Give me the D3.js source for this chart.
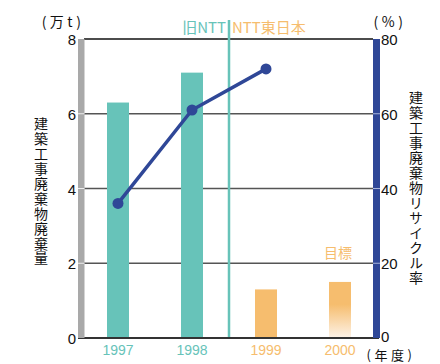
<!DOCTYPE html>
<html>
<head>
<meta charset="utf-8">
<script src="https://cdn.jsdelivr.net/npm/d3@7"></script>
<style>
  html, body { margin: 0; padding: 0; background: #fff; }
  svg { display: block; font-family: "Liberation Sans", "Noto Sans CJK JP", sans-serif; }
  .jp { font-family: "Noto Sans CJK JP", sans-serif; }
</style>
</head>
<body>
<svg id="chart" width="440" height="364"></svg>
<script>
// Construction waste amount (10k tonnes) and recycling rate (%)
const years = ["1997", "1998", "1999", "2000"];
const wasteAmount = [6.3, 7.1, 1.3, 1.5];
const recycleYears = ["1997", "1998", "1999"];
const recycleRate = [36, 61, 72];
const leftTicks = [0, 2, 4, 6, 8];
const rightTicks = [0, 20, 40, 60, 80];
const leftTitle = "建築工事廃棄物廃棄量";
const rightTitle = "建築工事廃棄物リサイクル率";

const teal = "#67c3b9";
const orange = "#f6bd6e";
const blue = "#2f4797";
const gray = "#a9a9a9";

const svg = d3.select("#chart");
const x0 = 84, x1 = 373, yTop = 39, yBot = 338;

const x = d3.scaleBand().domain(years).range([81, 377]).paddingInner(0.7).paddingOuter(0.35);
const yL = d3.scaleLinear().domain([0, 8]).range([yBot, yTop]);
const yR = d3.scaleLinear().domain([0, 80]).range([yBot, yTop]);

const defs = svg.append("defs");
const grad = defs.append("linearGradient").attr("id", "fade").attr("x1", 0).attr("y1", 0).attr("x2", 0).attr("y2", 1);
grad.append("stop").attr("offset", "0%").attr("stop-color", orange);
grad.append("stop").attr("offset", "40%").attr("stop-color", orange);
grad.append("stop").attr("offset", "100%").attr("stop-color", "#fdf3e8");

// gridlines
svg.append("g").selectAll("line").data(leftTicks.filter(d => d > 0)).join("line")
  .attr("x1", x0).attr("x2", x1)
  .attr("y1", d => yL(d)).attr("y2", d => yL(d))
  .attr("stroke", d => d === 8 ? "#111" : "#555").attr("stroke-width", 1.3);

// bars
const bandW = 22;
svg.append("g").selectAll("rect").data(years).join("rect")
  .attr("x", (d) => x(d) + x.bandwidth() / 2 - bandW / 2)
  .attr("width", bandW)
  .attr("y", (d, i) => yL(wasteAmount[i]))
  .attr("height", (d, i) => yBot - yL(wasteAmount[i]))
  .attr("fill", (d, i) => i < 2 ? teal : (i === 3 ? "url(#fade)" : orange));

// divider between organisations
const divX = (x("1998") + x("1999") + x.bandwidth()) / 2;
svg.append("line").attr("x1", divX).attr("x2", divX).attr("y1", 20).attr("y2", yBot)
  .attr("stroke", teal).attr("stroke-width", 2.5);
svg.append("text").attr("class", "jp").attr("x", divX - 3).attr("y", 33).attr("text-anchor", "end")
  .attr("font-size", 15).attr("fill", teal).text("旧NTT");
svg.append("text").attr("class", "jp").attr("x", divX + 3).attr("y", 33).attr("text-anchor", "start")
  .attr("font-size", 15).attr("fill", orange).text("NTT東日本");

// baseline
svg.append("line").attr("x1", x0 - 6).attr("x2", x1 + 6).attr("y1", yBot).attr("y2", yBot)
  .attr("stroke", "#333").attr("stroke-width", 2.2);

// side axis bars
svg.append("rect").attr("x", 78).attr("y", yTop).attr("width", 6.5).attr("height", yBot - yTop).attr("fill", gray);
svg.append("rect").attr("x", 373).attr("y", yTop).attr("width", 7).attr("height", yBot - yTop).attr("fill", blue);
svg.append("g").selectAll("line").data(leftTicks.filter(d => d > 0 && d < 8)).join("line")
  .attr("x1", 78).attr("x2", 84.5).attr("y1", d => yL(d)).attr("y2", d => yL(d))
  .attr("stroke", "#eee").attr("stroke-width", 1);
svg.append("g").selectAll("line").data(rightTicks.filter(d => d > 0 && d < 80)).join("line")
  .attr("x1", 373).attr("x2", 380).attr("y1", d => yR(d)).attr("y2", d => yR(d))
  .attr("stroke", "#a8b4dc").attr("stroke-width", 1);

// tick labels
svg.append("g").selectAll("text").data(leftTicks).join("text")
  .attr("x", 76).attr("y", d => yL(d) + 6).attr("text-anchor", "end")
  .attr("font-size", 15).attr("fill", "#111").text(d => d);
svg.append("g").selectAll("text").data(rightTicks).join("text")
  .attr("x", 381).attr("y", d => yR(d) + (d === 0 ? 4 : 6)).attr("text-anchor", "start")
  .attr("font-size", 15).attr("fill", "#111").text(d => d);

// year labels
svg.append("g").selectAll("text").data(years).join("text")
  .attr("x", d => x(d) + x.bandwidth() / 2).attr("y", 355).attr("text-anchor", "middle")
  .attr("font-size", 14).attr("fill", (d, i) => i < 2 ? teal : orange).text(d => d);

// unit labels
function unitLabel(str, cx, y, size) {
  svg.append("text").attr("class", "jp").attr("x", cx).attr("y", y).attr("text-anchor", "middle")
    .attr("font-size", size).attr("letter-spacing", 3.5).attr("fill", "#111").text(str);
}
unitLabel("(万t)", 63, 27, 14);
unitLabel("(%)", 390, 27, 14);
unitLabel("(年度)", 391, 360, 13);

// target label
svg.append("text").attr("class", "jp").attr("x", 338).attr("y", 258).attr("text-anchor", "middle")
  .attr("font-size", 14).attr("fill", orange).text("目標");

// vertical axis titles, one upright glyph per character
function verticalText(str, cx, top, step) {
  svg.append("g").attr("class", "jp").selectAll("text").data(Array.from(str)).join("text")
    .attr("x", cx).attr("y", (d, i) => top + step * i)
    .style("writing-mode", "vertical-rl")
    .attr("font-size", 14).attr("fill", "#111").text(d => d);
}
verticalText(leftTitle, 41, 117, 14.9);
verticalText(rightTitle, 416, 91, 15);

// recycling rate line
const line = d3.line().x(d => d.x).y(d => d.y);
const pts = recycleYears.map((yr, i) => ({ x: x(yr) + x.bandwidth() / 2, y: yR(recycleRate[i]) }));
svg.append("path").attr("d", line(pts)).attr("fill", "none").attr("stroke", blue).attr("stroke-width", 3.5);
svg.append("g").selectAll("circle").data(pts).join("circle")
  .attr("cx", d => d.x).attr("cy", d => d.y).attr("r", 5.5).attr("fill", blue);
</script>
</body>
</html>
